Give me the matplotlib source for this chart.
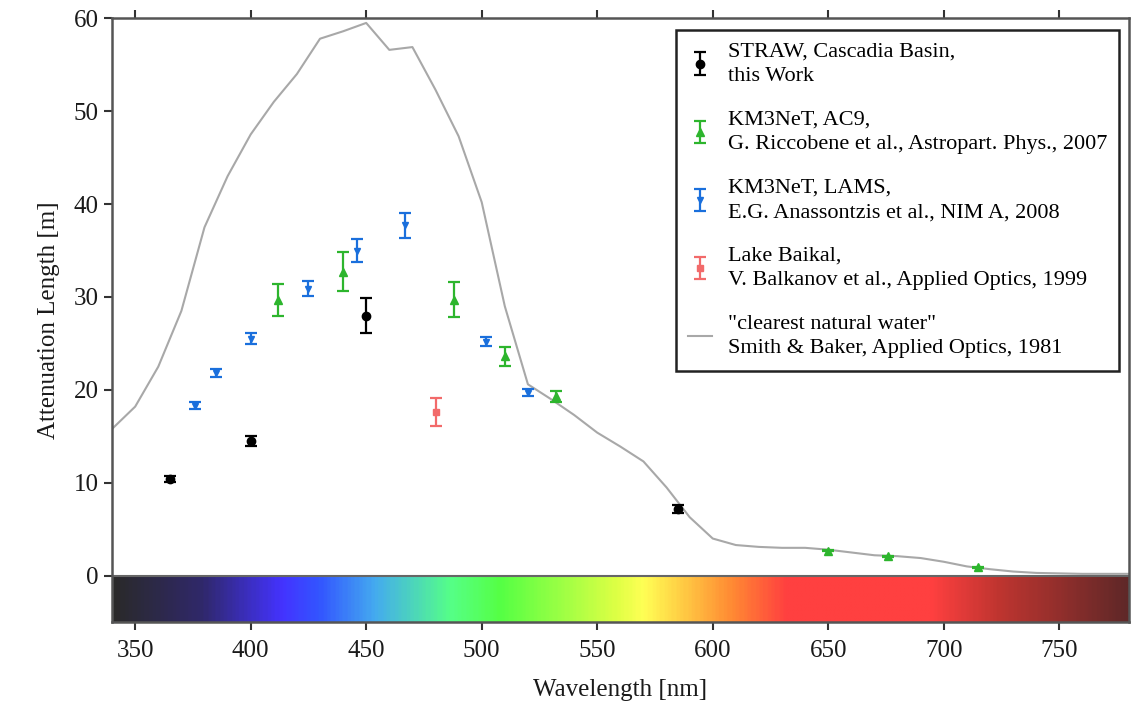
import numpy as np
import matplotlib
matplotlib.use("Agg")
import matplotlib.pyplot as plt
from matplotlib.colors import LinearSegmentedColormap

plt.rcParams['font.family'] = ['Liberation Serif', 'DejaVu Serif']

# "clearest natural water" attenuation length (Smith & Baker 1981)
sb_wavelength = [340, 350, 360, 370, 380, 390, 400, 410, 420, 430, 440, 450,
                 460, 470, 480, 490, 500, 510, 520, 530, 540, 550, 560, 570,
                 580, 590, 600, 610, 620, 630, 640, 650, 660, 670, 680, 690,
                 700, 710, 720, 730, 740, 750, 760, 770, 780]
sb_length = [15.8, 18.2, 22.5, 28.5, 37.5, 43.0, 47.5, 51.0, 54.0, 57.8, 58.6, 59.5,
             56.6, 56.9, 52.3, 47.3, 40.2, 29.0, 20.6, 19.0, 17.3, 15.4, 13.9, 12.3,
             9.5, 6.3, 4.0, 3.3, 3.1, 3.0, 3.0, 2.8, 2.5, 2.2, 2.1, 1.9,
             1.5, 1.0, 0.7, 0.45, 0.3, 0.25, 0.2, 0.2, 0.2]

# STRAW, Cascadia Basin
straw_wl = [365, 400, 450, 585]
straw_len = [10.4, 14.5, 28.0, 7.2]
straw_err = [0.3, 0.5, 1.9, 0.4]

# KM3NeT, AC9
ac9_wl = [412, 440, 488, 510, 532, 650, 676, 715]
ac9_len = [29.7, 32.7, 29.7, 23.6, 19.3, 2.7, 2.1, 0.9]
ac9_err = [1.7, 2.1, 1.9, 1.0, 0.6, 0.05, 0.05, 0.05]

# KM3NeT, LAMS
lams_wl = [376, 385, 400, 425, 446, 467, 502, 520]
lams_len = [18.3, 21.8, 25.5, 30.9, 35.0, 37.7, 25.2, 19.7]
lams_err = [0.4, 0.4, 0.6, 0.8, 1.2, 1.3, 0.5, 0.4]

# Lake Baikal
baikal_wl = [480]
baikal_len = [17.6]
baikal_err = [1.5]

# visible spectrum strip
spec_nm = [340, 378, 413, 429, 453, 486, 508, 558, 570, 587, 609, 632, 695, 724, 780]
spec_col = ['#2a2a2a', '#30286a', '#4433ff', '#3355ff', '#44aaf0', '#55ff88',
            '#55ff44', '#ddff44', '#ffff55', '#ffcc44', '#ff8833', '#ff4040',
            '#ff4040', '#c03530', '#602828']

fig = plt.figure(figsize=(11.32, 7.03), dpi=100)
ax = fig.add_axes([0.099, 0.115, 0.898, 0.859])

xmin, xmax = 340, 780
pos = [(w - xmin) / (xmax - xmin) for w in spec_nm]
cmap = LinearSegmentedColormap.from_list('spectrum', list(zip(pos, spec_col)))
grad = np.linspace(0, 1, 600).reshape(1, -1)
ax.imshow(grad, extent=[xmin, xmax, -5, 0], aspect='auto', cmap=cmap,
          interpolation='bilinear', zorder=0)
ax.axhline(0, color='#666666', lw=1.5, zorder=1)

ax.plot(sb_wavelength, sb_length, color='#a8a8a8', lw=1.5, zorder=2,
        label='"clearest natural water"\nSmith & Baker, Applied Optics, 1981')

eb = dict(linestyle='none', elinewidth=1.6, capsize=4, capthick=1.6, zorder=3)
ax.errorbar(straw_wl, straw_len, yerr=straw_err, fmt='o', color='black', ms=6,
            label='STRAW, Cascadia Basin,\nthis Work', **eb)
ax.errorbar(ac9_wl, ac9_len, yerr=ac9_err, fmt='^', color='#2db52d', ms=6,
            label='KM3NeT, AC9,\nG. Riccobene et al., Astropart. Phys., 2007', **eb)
ax.errorbar(lams_wl, lams_len, yerr=lams_err, fmt='v', color='#1a6fdc', ms=5,
            label='KM3NeT, LAMS,\nE.G. Anassontzis et al., NIM A, 2008', **eb)
ax.errorbar(baikal_wl, baikal_len, yerr=baikal_err, fmt='s', color='#f26a6a', ms=5,
            label='Lake Baikal,\nV. Balkanov et al., Applied Optics, 1999', **eb)

ax.set_xlim(xmin, xmax)
ax.set_ylim(-5, 60)
ax.set_xticks([350, 400, 450, 500, 550, 600, 650, 700, 750])
ax.set_yticks([0, 10, 20, 30, 40, 50, 60])
ax.tick_params(axis='both', direction='out', length=6, width=1.5,
               labelsize=18, colors='#333333', labelcolor='#1a1a1a')
ax.tick_params(axis='x', top=True, pad=7)
for s in ax.spines.values():
    s.set_linewidth(1.8)
    s.set_color('#555555')

ax.set_xlabel('Wavelength [nm]', fontsize=18, color='#1a1a1a', labelpad=12)
ax.set_ylabel('Attenuation Length [m]', fontsize=18, color='#1a1a1a', labelpad=10)

handles, labels = ax.get_legend_handles_labels()
order = [1, 2, 3, 4, 0]
leg = ax.legend([handles[i] for i in order], [labels[i] for i in order],
                loc='upper right', bbox_to_anchor=(0.991, 0.980), borderaxespad=0,
                fontsize=16, frameon=True, fancybox=False, framealpha=1,
                edgecolor='#222222', labelspacing=1.1, handlelength=1.1,
                handletextpad=0.7, borderpad=0.55)
for t in leg.get_texts():
    t.set_linespacing(1.4)
leg.get_frame().set_linewidth(1.8)

fig.savefig('out.png', dpi=100)
